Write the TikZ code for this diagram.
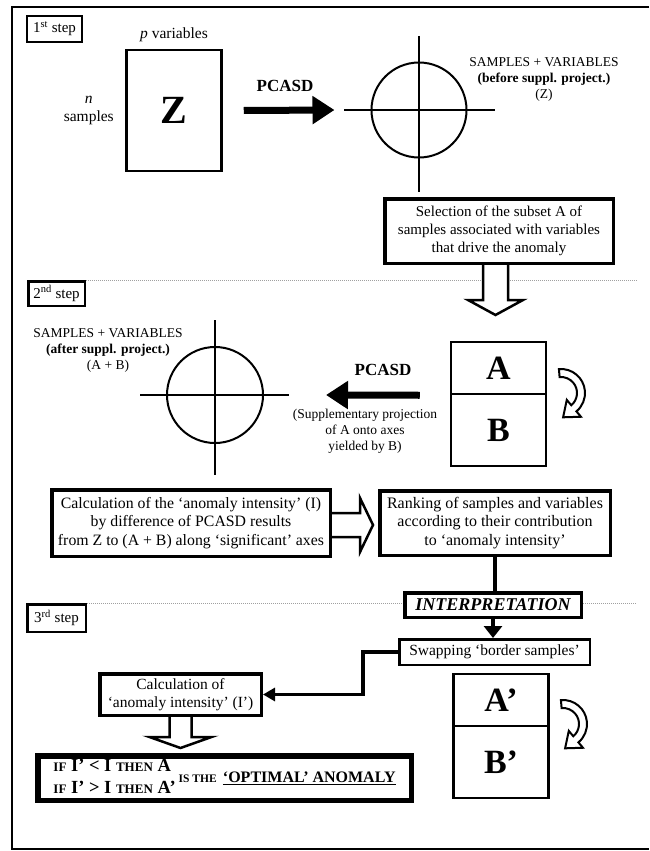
\documentclass[tikz,border=0pt]{standalone}
\usepackage{fontspec}
\setmainfont{Liberation Serif}
\usepackage{tikz}
\usetikzlibrary{arrows.meta, positioning, calc}
\definecolor{sepgray}{RGB}{160,160,160}
\newcommand{\sctext}[2][13]{{\fontsize{#1}{14}\selectfont #2}}
\tikzset{
    stepbox/.style={draw, line width=2.5pt, inner sep=0pt, minimum width=55pt, minimum height=26pt,
                    font=\fontsize{15}{17}\selectfont},
    matbox/.style={draw, line width=2.5pt, inner sep=0pt, minimum width=95pt},
    textbox/.style={draw, line width=3.5pt, fill=white, align=center, inner sep=0pt,
                    font=\fontsize{15}{18}\selectfont},
    bodytext/.style={font=\fontsize{15.5}{18}\selectfont, align=center},
    labeltext/.style={font=\fontsize{13.5}{16}\selectfont, align=center},
    pcasd/.style={font=\fontsize{17}{20}\selectfont\bfseries},
    axisline/.style={line width=2pt},
    sepline/.style={sepgray, line width=0.8pt, dash pattern=on 1pt off 1pt},
    bigarrow/.style={line width=7pt, -{Triangle[length=22pt, width=27pt]}},
    hollow/.style={line width=2.5pt, fill=white, line join=miter},
    thinarrow/.style={line width=3.5pt, -{Triangle[length=12pt, width=18pt]}},
    turnarrow/.pic={
        \draw[line width=2pt, fill=white, line join=miter]
            (-95:24) arc[start angle=-95, end angle=50, radius=24]
            -- (50:31) -- (2.1,24.3) -- (50:9) -- (50:16)
            arc[start angle=50, end angle=-95, radius=16] -- cycle;
    }
}

\begin{document}
\begin{tikzpicture}[x=1pt, y=-1pt]
    \useasboundingbox (0,0) rectangle (649,851);

    % Frame
    \draw[line width=2pt] (649,7) -- (12,7) -- (12,849) -- (649,849);

    % 1st step
    \node[stepbox] (s1) at (54.5,29) {1\textsuperscript{st} step};
    \node[matbox, minimum height=121pt, font=\fontsize{40}{42}\selectfont\bfseries] (z) at (174,110.5) {Z};
    \node[bodytext, above=3pt of z] (pvar) {\textit{p} variables};
    \node[bodytext, left=8pt of z] (nsam) {\textit{n}\\samples};
    \node[pcasd] (pc1) at (285,86) {PCASD};
    \node[circle, draw, line width=2pt, minimum size=95pt, inner sep=0pt] (c1) at (419,110) {};
    \draw[axisline] (c1.center) ++(0,-74) -- ++(0,156);
    \draw[axisline] (c1.center) ++(-75,0) -- ++(151,0);
    \draw[bigarrow] ([xshift=21pt]z.east) -- ([xshift=-36pt]c1.west);
    \node[labeltext] (l1) at (544,79) {SAMPLES + VARIABLES\\\textbf{(before suppl. project.)}\\(Z)};
    \node[textbox, minimum width=228.5pt, minimum height=64.5pt] (sel) at (499,231)
        {Selection of the subset A of\\samples associated with variables\\that drive the anomaly};

    % 2nd step
    \node[stepbox, minimum width=56.5pt, minimum height=24.5pt] (s2) at (56.5,293.5) {2\textsuperscript{nd} step};
    \draw[sepline] (s2.north east) -- (637,280);
    \draw[hollow] ([xshift=-16pt]sel.south) -- ++(0,35) -- ++(-15,0) -- ++(27.5,15)
        -- ++(27.5,-15) -- ++(-15,0) -- ++(0,-35);
    \node[matbox, minimum height=52pt, font=\fontsize{34}{36}\selectfont\bfseries] (a) at (498.5,368) {A};
    \node[matbox, minimum height=72pt, below=-2.5pt of a, font=\fontsize{34}{36}\selectfont\bfseries] (b) {B};
    \pic at (561,393) {turnarrow};
    \node[pcasd] (pc2) at (383,370) {PCASD};
    \node[circle, draw, line width=2pt, minimum size=96pt, inner sep=0pt] (c2) at (215,395) {};
    \draw[axisline] (c2.center) ++(0,-75) -- ++(0,155);
    \draw[axisline] (c2.center) ++(-75,0) -- ++(149,0);
    \draw[bigarrow] ([xshift=-30pt]a.south west) -- ([xshift=62pt]c2.east);
    \node[labeltext] (sup) at (365,431) {(Supplementary projection\\of A onto axes\\yielded by B)};
    \node[labeltext] (l2) at (108,350) {SAMPLES + VARIABLES\\\textbf{(after suppl. project.)}\\(A + B)};
    \node[textbox, minimum width=278.5pt, minimum height=66.5pt, font=\fontsize{15.8}{18.5}\selectfont] (calc) at (191,523)
        {Calculation of the `anomaly intensity' (I)\\by difference of PCASD results\\from Z to (A + B) along `significant' axes};
    \node[textbox, minimum width=230.5pt, minimum height=64.5pt, font=\fontsize{16}{18.5}\selectfont] (rank) at (495,523)
        {Ranking of samples and variables\\according to their contribution\\to `anomaly intensity'};
    \draw[hollow] ([yshift=10pt]calc.east) -- ++(28,0) -- ++(0,-15) -- ++(13,27)
        -- ++(-13,27) -- ++(0,-15) -- ++(-28,0);

    % 3rd step
    \node[stepbox, minimum width=58.5pt, minimum height=27.5pt] (s3) at (56.5,618) {3\textsuperscript{rd} step};
    \draw[sepline] (s3.north east) -- (637,603);
    \node[textbox, minimum width=176.5pt, minimum height=24.5pt,
          font=\fontsize{18}{20}\selectfont\bfseries\itshape] (interp) at (493,605) {INTERPRETATION};
    \draw[line width=3.5pt] (rank.south) -- (rank.south |- interp.north);
    \node[textbox, line width=2.5pt, minimum width=190.5pt, minimum height=25.5pt,
          font=\fontsize{15.5}{18}\selectfont] (swap) at (494.5,652) {Swapping `border samples'};
    \draw[thinarrow] (interp.south) -- (interp.south |- swap.north);
    \node[textbox, minimum width=161.5pt, minimum height=41.5pt, font=\fontsize{15.5}{18}\selectfont] (calc2) at (180.5,694.5)
        {Calculation of\\`anomaly intensity' (I')};
    \draw[line width=3.3pt, -{Triangle[length=12pt, width=13pt]}] (swap.west) -- ++(-35,0) |- (calc2.east);
    \draw[hollow] ([xshift=-11pt]calc2.south) -- ++(0,20) -- ++(-20,0) -- ++(31,11)
        -- ++(31,-11) -- ++(-20,0) -- ++(0,-20);
    \node[textbox, line width=5.5pt, minimum width=373.5pt, minimum height=44.5pt,
          font=\fontsize{18.5}{21}\selectfont\bfseries] (final) at (224.5,778)
        {\begin{tabular}{@{}l@{}}\sctext{IF} I' < I \sctext{THEN} A\\[1pt]\sctext{IF} I' > I \sctext{THEN} A'\end{tabular}%
         \,\sctext[11.5]{IS THE}\,\,\underline{\sctext[16]{`OPTIMAL' ANOMALY}}};
    \node[matbox, minimum height=52pt, font=\fontsize{34}{36}\selectfont\bfseries] (a2) at (501,700) {A'};
    \node[matbox, minimum height=72pt, below=-2.5pt of a2, font=\fontsize{34}{36}\selectfont\bfseries] (b2) {B'};
    \pic at (563,724) {turnarrow};
\end{tikzpicture}
\end{document}
